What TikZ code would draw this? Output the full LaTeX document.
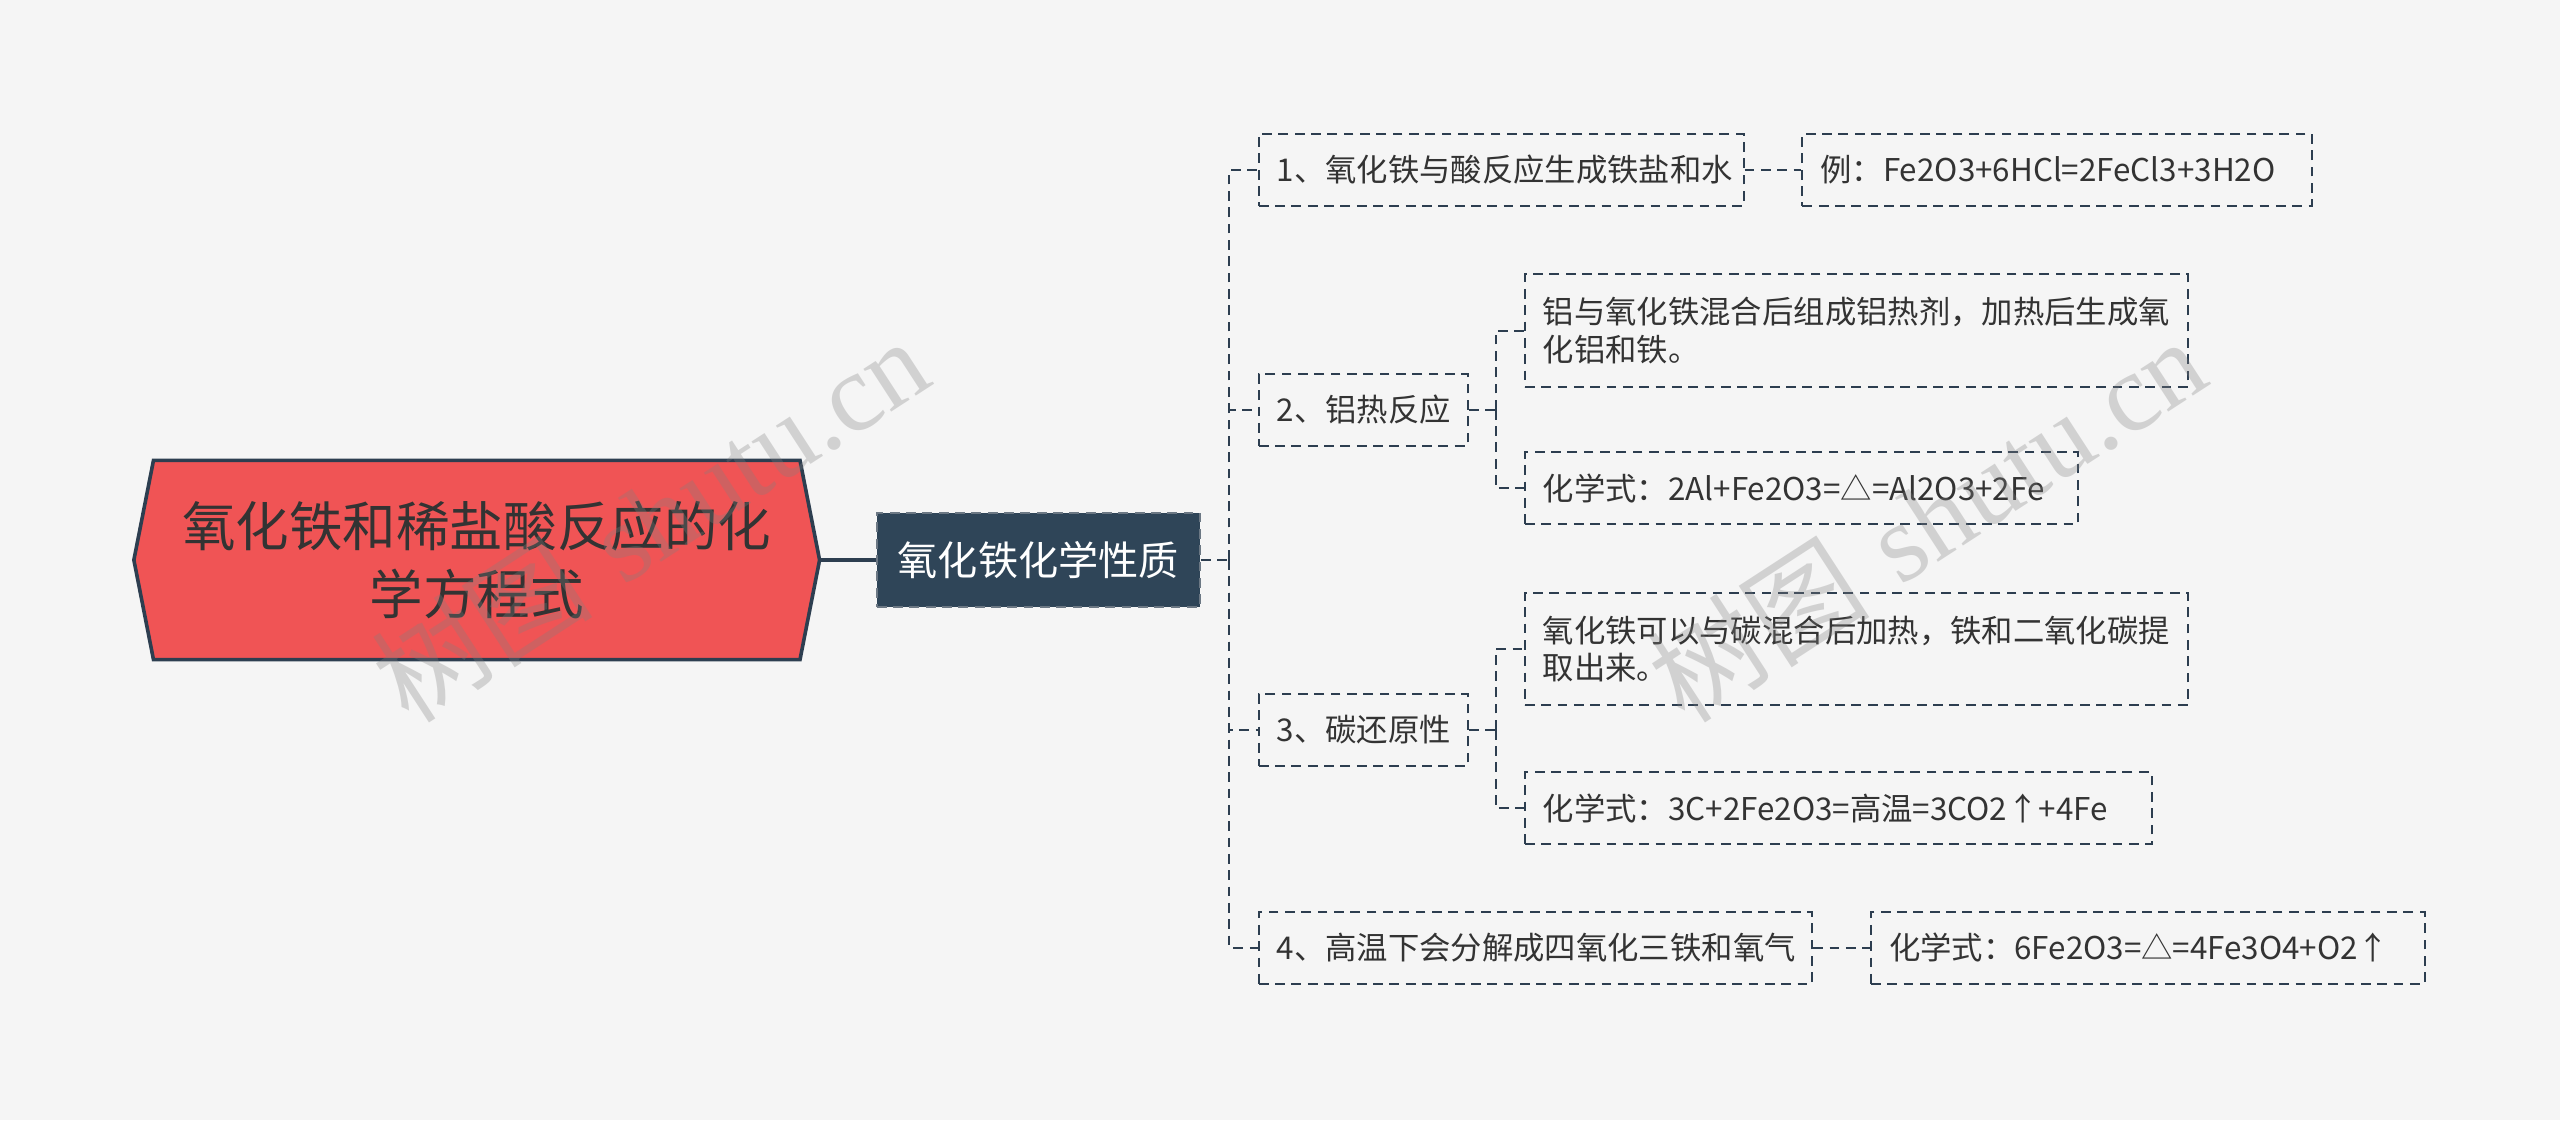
\documentclass[tikz,border=0pt]{standalone}
\usepackage{fontspec}
\newfontfamily\cjk{Noto Sans CJK SC}
\newfontfamily\wmserif{Liberation Serif}
\definecolor{bgc}{HTML}{F5F5F5}
\definecolor{linec}{HTML}{2D3E50}
\definecolor{rootfill}{HTML}{F05455}
\definecolor{centerfill}{HTML}{2F4558}
\definecolor{txt}{HTML}{333333}
\begin{document}
\begin{tikzpicture}[x=0.5pt,y=-0.5pt,
  box/.style={draw=linec, line width=0.6pt, dash pattern=on 3pt off 2pt, inner sep=0pt,
    font=\cjk\fontsize{9.6}{11.5}\selectfont, text=txt, minimum height=22pt, align=left},
  bw/.style={minimum width=#1, text width=#1-11pt},
  conn/.style={draw=linec, line width=0.6pt, dash pattern=on 3pt off 2pt},
  wm/.style={text=gray, opacity=0.3, rotate=33, font=\fontsize{34}{40}\selectfont}]
\useasboundingbox[fill=bgc] (0,0) rectangle (1568,686);
% root hexagon
\filldraw[fill=rootfill, draw=linec, line width=1.1pt]
  (82,343) -- (94,282) -- (490,282) -- (502,343) -- (490,404) -- (94,404) -- cycle;
\node[minimum width=210pt, minimum height=61pt, inner sep=0pt, align=center,
  font=\cjk\fontsize{16.4}{21}\selectfont, text=txt] (root) at (292,343)
  {氧化铁和稀盐酸反应的化\\学方程式};
% center
\node[fill=centerfill, draw=linec!70!white, line width=0.6pt, dash pattern=on 3pt off 2pt,
  minimum width=99pt, minimum height=29pt, inner sep=0pt,
  font=\cjk\fontsize{12.3}{14}\selectfont, text=white] (center) at (636,343) {氧化铁化学性质};
% level 1
\node[box, bw=148.5pt] (n1) at (919.5,104) {1、氧化铁与酸反应生成铁盐和水};
\node[box, bw=64pt] (n2) at (835,251) {2、铝热反应};
\node[box, bw=64pt] (n3) at (835,447) {3、碳还原性};
\node[box, bw=169.5pt] (n4) at (940.5,580.5) {4、高温下会分解成四氧化三铁和氧气};
% level 2
\node[box, bw=156pt] (a1) at (1260,104) {例：Fe2O3+6HCl=2FeCl3+3H2O};
\node[box, bw=203pt, minimum height=34.5pt] (a2a) at (1137,202.5)
  {铝与氧化铁混合后组成铝热剂，加热后生成氧\\化铝和铁。};
\node[box, bw=169.5pt] (a2b) at (1103.5,299) {化学式：2Al+Fe2O3=△=Al2O3+2Fe};
\node[box, bw=203pt, minimum height=34.5pt] (a3a) at (1137,397.5)
  {氧化铁可以与碳混合后加热，铁和二氧化碳提\\取出来。};
\node[box, bw=192pt] (a3b) at (1126,495) {化学式：3C+2Fe2O3=高温=3CO2↑+4Fe};
\node[box, bw=169.5pt] (a4) at (1315.5,580.5) {化学式：6Fe2O3=△=4Fe3O4+O2↑};
% connectors
\draw[linec, line width=1.1pt] (root.east) -- (center.west);
\coordinate (j0) at (753,343);
\coordinate (j2) at (916,251);
\coordinate (j3) at (916,447);
\draw[conn] (center.east) -- (j0);
\draw[conn] (j0) |- (n1.west);
\draw[conn] (j0) |- (n2.west);
\draw[conn] (j0) |- (n3.west);
\draw[conn] (j0) |- (n4.west);
\draw[conn] (n1.east) -- (a1.west);
\draw[conn] (n4.east) -- (a4.west);
\draw[conn] (n2.east) -- (j2);
\draw[conn] (j2) |- (a2a.west);
\draw[conn] (j2) |- (a2b.west);
\draw[conn] (n3.east) -- (j3);
\draw[conn] (j3) |- (a3a.west);
\draw[conn] (j3) |- (a3b.west);
% watermarks
\node[wm] (wm1) at (398,318) {{\cjk 树图} {\wmserif shutu.cn}};
\node[wm] (wm2) at (1180,318) {{\cjk 树图} {\wmserif shutu.cn}};
\end{tikzpicture}
\end{document}
